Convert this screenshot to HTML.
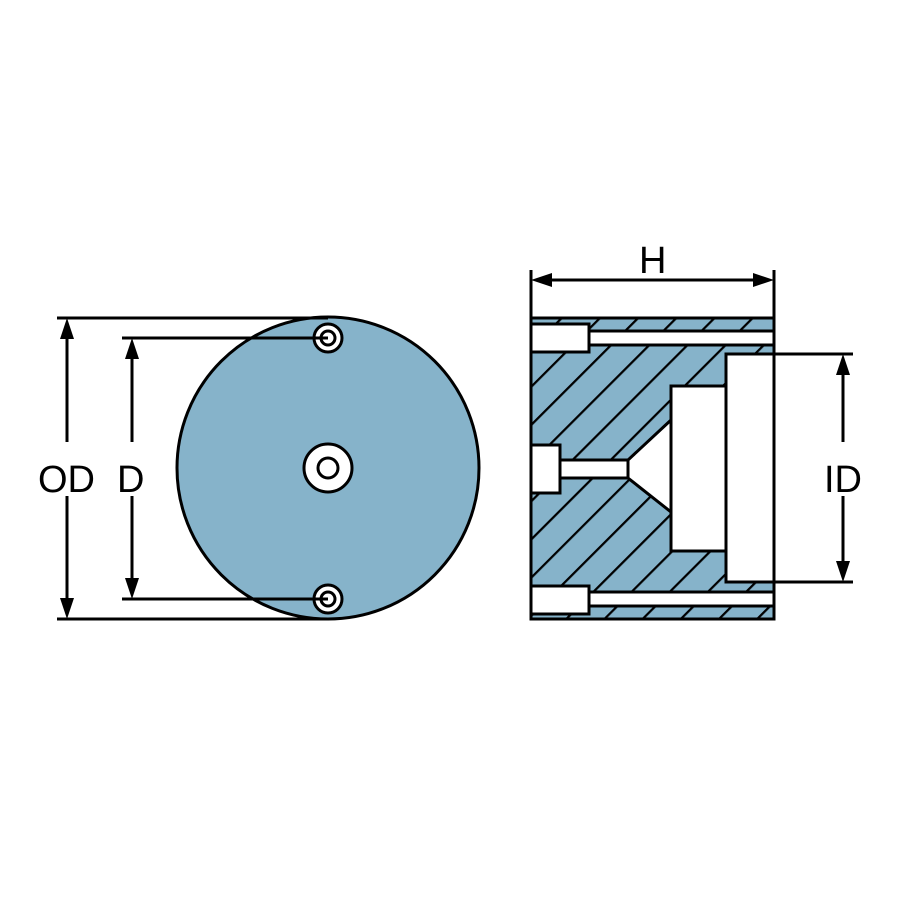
<!DOCTYPE html>
<html><head><meta charset="utf-8"><style>
html,body{margin:0;padding:0;background:#fff;}
svg{display:block}
text{font-family:"Liberation Sans",sans-serif;font-size:38px;fill:#000}
</style></head><body>
<svg width="900" height="900" viewBox="0 0 900 900" xmlns="http://www.w3.org/2000/svg">
<defs>
<pattern id="h" patternUnits="userSpaceOnUse" width="27" height="27" patternTransform="rotate(45)">
<rect width="27" height="27" fill="#86b3ca"/>
<line x1="0" y1="0" x2="0" y2="27" stroke="#000" stroke-width="4.5"/>
</pattern>
</defs>
<circle cx="328" cy="468" r="151" fill="#86b3ca" stroke="#000" stroke-width="3"/>
<circle cx="328" cy="468" r="24" fill="#fff" stroke="#000" stroke-width="3"/>
<circle cx="328" cy="468" r="10" fill="#fff" stroke="#000" stroke-width="3"/>
<circle cx="328" cy="338" r="14" fill="#fff" stroke="#000" stroke-width="3"/>
<circle cx="328" cy="338" r="7" fill="#fff" stroke="#000" stroke-width="3"/>
<circle cx="328" cy="599" r="14" fill="#fff" stroke="#000" stroke-width="3"/>
<circle cx="328" cy="599" r="7" fill="#fff" stroke="#000" stroke-width="3"/>
<g stroke="#000" stroke-width="3">
<line x1="57" y1="318" x2="328" y2="318"/>
<line x1="57" y1="619" x2="328" y2="619"/>
<line x1="122" y1="338" x2="328" y2="338"/>
<line x1="122" y1="599" x2="328" y2="599"/>
<line x1="67" y1="330" x2="67" y2="442"/>
<line x1="67" y1="496" x2="67" y2="607"/>
<line x1="132" y1="350" x2="132" y2="442"/>
<line x1="132" y1="496" x2="132" y2="587"/>
</g>
<g fill="#000">
<polygon points="67,318 60,339 74,339"/>
<polygon points="67,619 60,598 74,598"/>
<polygon points="132,338 125,359 139,359"/>
<polygon points="132,599 125,578 139,578"/>
</g>
<text x="38" y="492">OD</text>
<text x="117" y="492">D</text>

<rect x="531" y="318" width="243" height="301" fill="url(#h)" stroke="#000" stroke-width="3"/>
<g fill="#fff" stroke="#000" stroke-width="3">
<rect x="589" y="331" width="185" height="14"/>
<rect x="531" y="324" width="58" height="28"/>
<rect x="589" y="592" width="185" height="14"/>
<rect x="531" y="586" width="58" height="28"/>
<polygon points="671,420 628,460 628,478 671,512"/>
<rect x="560" y="460" width="68" height="18"/>
<rect x="531" y="445" width="29" height="48"/>
<rect x="671" y="386" width="55" height="165"/>
<rect x="726" y="354" width="48" height="228"/>
</g>
<line x1="531" y1="318" x2="531" y2="619" stroke="#000" stroke-width="3"/>
<g stroke="#000" stroke-width="3">
<line x1="531" y1="270" x2="531" y2="318"/>
<line x1="774" y1="270" x2="774" y2="318"/>
<line x1="545" y1="280" x2="760" y2="280"/>
<line x1="774" y1="354" x2="853" y2="354"/>
<line x1="774" y1="582" x2="853" y2="582"/>
<line x1="843" y1="366" x2="843" y2="442"/>
<line x1="843" y1="496" x2="843" y2="570"/>
</g>
<g fill="#000">
<polygon points="531,280 552,273 552,287"/>
<polygon points="774,280 753,273 753,287"/>
<polygon points="843,354 836,375 850,375"/>
<polygon points="843,582 836,561 850,561"/>
</g>
<text x="639" y="273">H</text>
<text x="824" y="492">ID</text>
</svg>
</body></html>
